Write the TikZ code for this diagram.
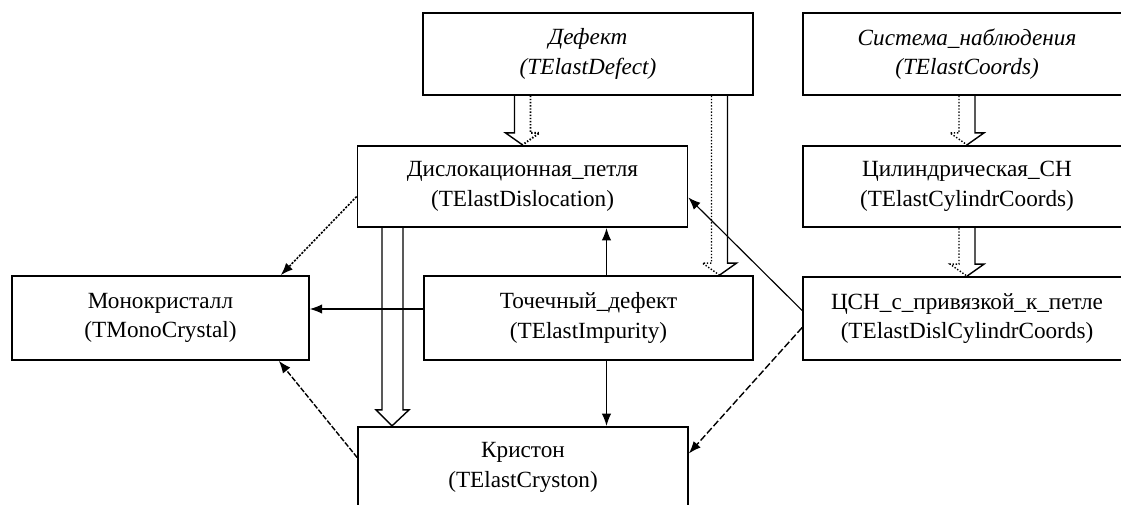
\documentclass[tikz,border=0pt]{standalone}
\usepackage{fontspec}
\setmainfont{Liberation Serif}
\usetikzlibrary{calc,arrows.meta}

\begin{document}
\begin{tikzpicture}[x=0.02cm, y=-0.02cm, >={Latex[length=7pt,width=5.4pt]},
    cls/.style={draw, line width=1pt, minimum width=6.6cm, minimum height=1.63cm,
        align=center, inner sep=0pt, font=\fontsize{13.2}{16.8}\selectfont},
    conn/.style={line width=0.65pt},
    hollow/.style={line width=0.8pt}]
    \useasboundingbox (0,0) rectangle (1121,504);

    % === TOP ROW: base classes ===
    \node[cls, font=\fontsize{13.2}{16.8}\selectfont\itshape] (defect) at (588,54) {Дефект\\(TElastDefect)};
    \node[cls, font=\fontsize{13.2}{16.8}\selectfont\itshape, minimum width=6.56cm] (coords) at (967,54) {Система\_наблюдения\\(TElastCoords)};

    % === MIDDLE ROW ===
    \node[cls] (disloc) at (522.5,186.5) {Дислокационная\_петля\\(TElastDislocation)};
    \node[cls, minimum width=6.56cm] (cyl) at (967,186.5) {Цилиндрическая\_СН\\(TElastCylindrCoords)};

    % === LOWER ROW ===
    \node[cls, minimum width=5.94cm, minimum height=1.68cm] (mono) at (160.5,318) {Монокристалл\\(TMonoCrystal)};
    \node[cls, minimum width=6.58cm, minimum height=1.68cm] (impurity) at (588.5,318) {Точечный\_дефект\\(TElastImpurity)};
    \node[cls, minimum width=6.56cm, minimum height=1.66cm] (dislcyl) at (967,318.5) {ЦСН\_с\_привязкой\_к\_петле\\(TElastDislCylindrCoords)};

    % === BOTTOM ===
    \node[cls, minimum width=6.6cm] (cryston) at (523,467.5) {Кристон\\(TElastCryston)};

    % === inheritance (hollow arrows) ===
    % Дефект -> Дислокационная_петля
    \draw[hollow] ($(defect.south -| disloc.north)+(-8,0)$) -- ($(disloc.north)+(-8,-12)$) -- ++(-9,0) -- (disloc.north);
    \draw[hollow, densely dotted, line width=1.1pt] ($(defect.south -| disloc.north)+(8,0)$) -- ($(disloc.north)+(8,-12)$) -- ++(9,0) -- (disloc.north);
    % Дефект -> Точечный_дефект
    \draw[hollow, densely dotted] ($(defect.south -| impurity.north)+(123,0)$) -- ($(impurity.north)+(123,-12)$) -- ++(-9,0) -- ($(impurity.north)+(131,0)$);
    \draw[hollow] ($(defect.south -| impurity.north)+(139,0)$) -- ($(impurity.north)+(139,-12)$) -- ++(9,0) -- ($(impurity.north)+(131,0)$);
    % Система_наблюдения -> Цилиндрическая_СН
    \draw[hollow, densely dotted] ($(coords.south)+(-8,0)$) -- ($(cyl.north)+(-8,-12)$) -- ++(-9,0) -- (cyl.north);
    \draw[hollow] ($(coords.south)+(8,0)$) -- ($(cyl.north)+(8,-12)$) -- ++(9,0) -- (cyl.north);
    % Цилиндрическая_СН -> ЦСН_с_привязкой_к_петле
    \draw[hollow, densely dotted] ($(cyl.south)+(-8,0)$) -- ($(dislcyl.north)+(-8,-12)$) -- ++(-9,0) -- (dislcyl.north);
    \draw[hollow] ($(cyl.south)+(8,0)$) -- ($(dislcyl.north)+(8,-12)$) -- ++(9,0) -- (dislcyl.north);
    % Дислокационная_петля -> Кристон
    \draw[hollow] ($(disloc.south -| cryston.north)+(-141,0)$) -- ($(cryston.north)+(-141,-16)$) -- ++(-6,0) -- ($(cryston.north)+(-131,0)$);
    \draw[hollow] ($(disloc.south -| cryston.north)+(-120,0)$) -- ($(cryston.north)+(-120,-16)$) -- ++(6,0) -- ($(cryston.north)+(-131,0)$);

    % === uses (filled arrows) ===
    \draw[conn, ->, dash pattern=on 1.2pt off 0.8pt, line width=0.9pt] ($(disloc.west)+(0,10)$) -- ($(mono.north east)+(-29,0)$);
    \draw[conn, ->, dash pattern=on 3pt off 1pt, line width=0.8pt] ($(cryston.west)+(0,-10)$) -- ($(mono.south east)+(-31,0)$);
    \draw[conn, ->] ($(impurity.west)+(0,-9)$) coordinate (iw) -- (mono.east |- iw);
    \draw[conn, ->] ($(impurity.north)+(18,0)$) coordinate (in) -- (disloc.south -| in);
    \draw[conn, ->] ($(impurity.south)+(18,0)$) coordinate (is) -- (cryston.north -| is);
    \draw[conn, ->] ($(dislcyl.west)+(0,-8)$) -- ($(disloc.east)+(0,11)$);
    \draw[conn, ->, dash pattern=on 4pt off 1.5pt, line width=0.8pt] ($(dislcyl.west)+(0,9)$) -- ($(cryston.east)+(0,-14)$);
\end{tikzpicture}
\end{document}
